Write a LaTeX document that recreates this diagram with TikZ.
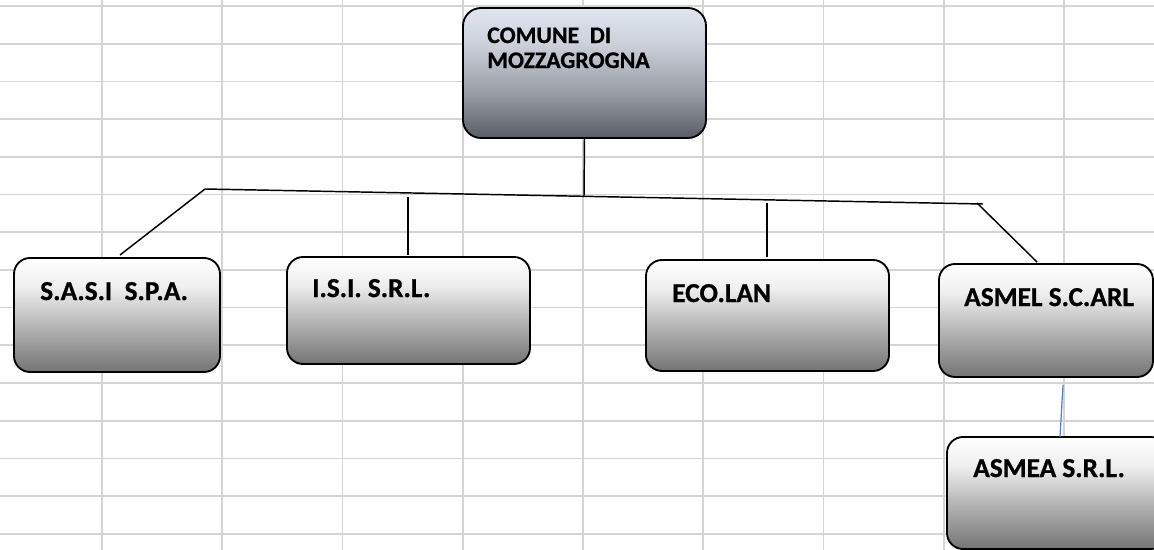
\documentclass[tikz,border=0pt]{standalone}
\usepackage{fontspec}
\setmainfont{Carlito}[BoldFeatures={FakeBold=0.9}]
\definecolor{gridc}{HTML}{D4D4D4}
\definecolor{ct}{HTML}{FFFFFF}
\definecolor{cl}{HTML}{EEEEEE}
\definecolor{cm}{HTML}{B4B4B4}
\definecolor{cb}{HTML}{747474}
\definecolor{rt}{HTML}{DFE5EF}
\definecolor{rl}{HTML}{CDD2DC}
\definecolor{rm}{HTML}{979CA5}
\definecolor{rb}{HTML}{595D65}
\definecolor{bluel}{HTML}{4F81BD}
\pgfdeclareverticalshading{childshade}{100bp}{color(0bp)=(cb); color(25bp)=(cb); color(45bp)=(cm); color(62bp)=(cl); color(75bp)=(ct); color(100bp)=(ct)}
\pgfdeclareverticalshading{rootshade}{100bp}{color(0bp)=(rb); color(25bp)=(rb); color(42bp)=(rm); color(62bp)=(rl); color(75bp)=(rt); color(100bp)=(rt)}
\begin{document}
\begin{tikzpicture}[x=0.75pt,y=-0.75pt,
  box/.style={draw=black, line width=1.4pt, rounded corners=12pt, shading=childshade, inner sep=0pt, outer sep=0pt, anchor=north west},
  rootbox/.style={box, shading=rootshade, rounded corners=13.5pt},
  lbl/.style={font=\bfseries\fontsize{20.5pt}{24pt}\selectfont, inner sep=0pt, anchor=base west},
  rootlbl/.style={lbl, font=\bfseries\fontsize{17.8pt}{21pt}\selectfont},
  conn/.style={line width=1.1pt, black},
  gridl/.style={gridc, line width=1.3pt}]
\useasboundingbox (0,0) rectangle (1154,550);
\clip (0,0) rectangle (1154,550);
\fill[white] (0,0) rectangle (1154,550);
% spreadsheet grid
\foreach \k in {0,...,8} {\draw[gridl] ({102+120.25*\k},0) -- ({102+120.25*\k},550);}
\foreach \k in {0,...,14} {\draw[gridl] (0,{6+37.7*\k}) -- (1154,{6+37.7*\k});}
% boxes
\node[rootbox, minimum width=182.25pt, minimum height=97.5pt] (comune) at (463,8) {};
\node[box, minimum width=154.5pt, minimum height=85.5pt] (sasi) at (14,258) {};
\node[box, minimum width=182.25pt, minimum height=80.25pt] (isi) at (287,257) {};
\node[box, minimum width=182.25pt, minimum height=83.25pt] (eco) at (646,260) {};
\node[box, minimum width=160.5pt, minimum height=84.75pt] (asmel) at (939,264) {};
\node[box, minimum width=165pt, minimum height=84pt] (asmea) at (947,437) {};
% labels
\node[rootlbl] (comune-t1) at (487,43) {COMUNE\ \ DI};
\node[rootlbl] (comune-t2) at (487,68) {MOZZAGROGNA};
\node[lbl] (sasi-t) at (40,300) {S.A.S.I\ \ S.P.A.};
\node[lbl] (isi-t) at (312,297) {I.S.I. S.R.L.};
\node[lbl] (eco-t) at (672,302) {ECO.LAN};
\node[lbl] (asmel-t) at (964,306) {ASMEL S.C.ARL};
\node[lbl] (asmea-t) at (973,477) {ASMEA S.R.L.};
% connector points
\coordinate (hl) at (205,189);
\coordinate (hr) at (983,204);
\coordinate (stemend) at (584,196);
\coordinate (sasiend) at (120,255);
\coordinate (isitop) at (408,197);
\coordinate (isiend) at (408,255);
\coordinate (ecotop) at (767,203);
\coordinate (ecoend) at (767,257);
\coordinate (asmelstart) at (977,203);
\coordinate (asmelend) at (1037,262);
\coordinate (asmeastart) at (1063,385);
\coordinate (asmeaend) at (1060,437);
% connectors
\draw[conn] (hl) -- (hr);
\draw[conn] (comune.south) -- (stemend);
\draw[conn] (hl) -- (sasiend);
\draw[conn] (isitop) -- (isiend);
\draw[conn] (ecotop) -- (ecoend);
\draw[conn] (asmelstart) -- (asmelend);
\draw[bluel, line width=0.9pt] (asmeastart) -- (asmeaend);
\end{tikzpicture}
\end{document}
